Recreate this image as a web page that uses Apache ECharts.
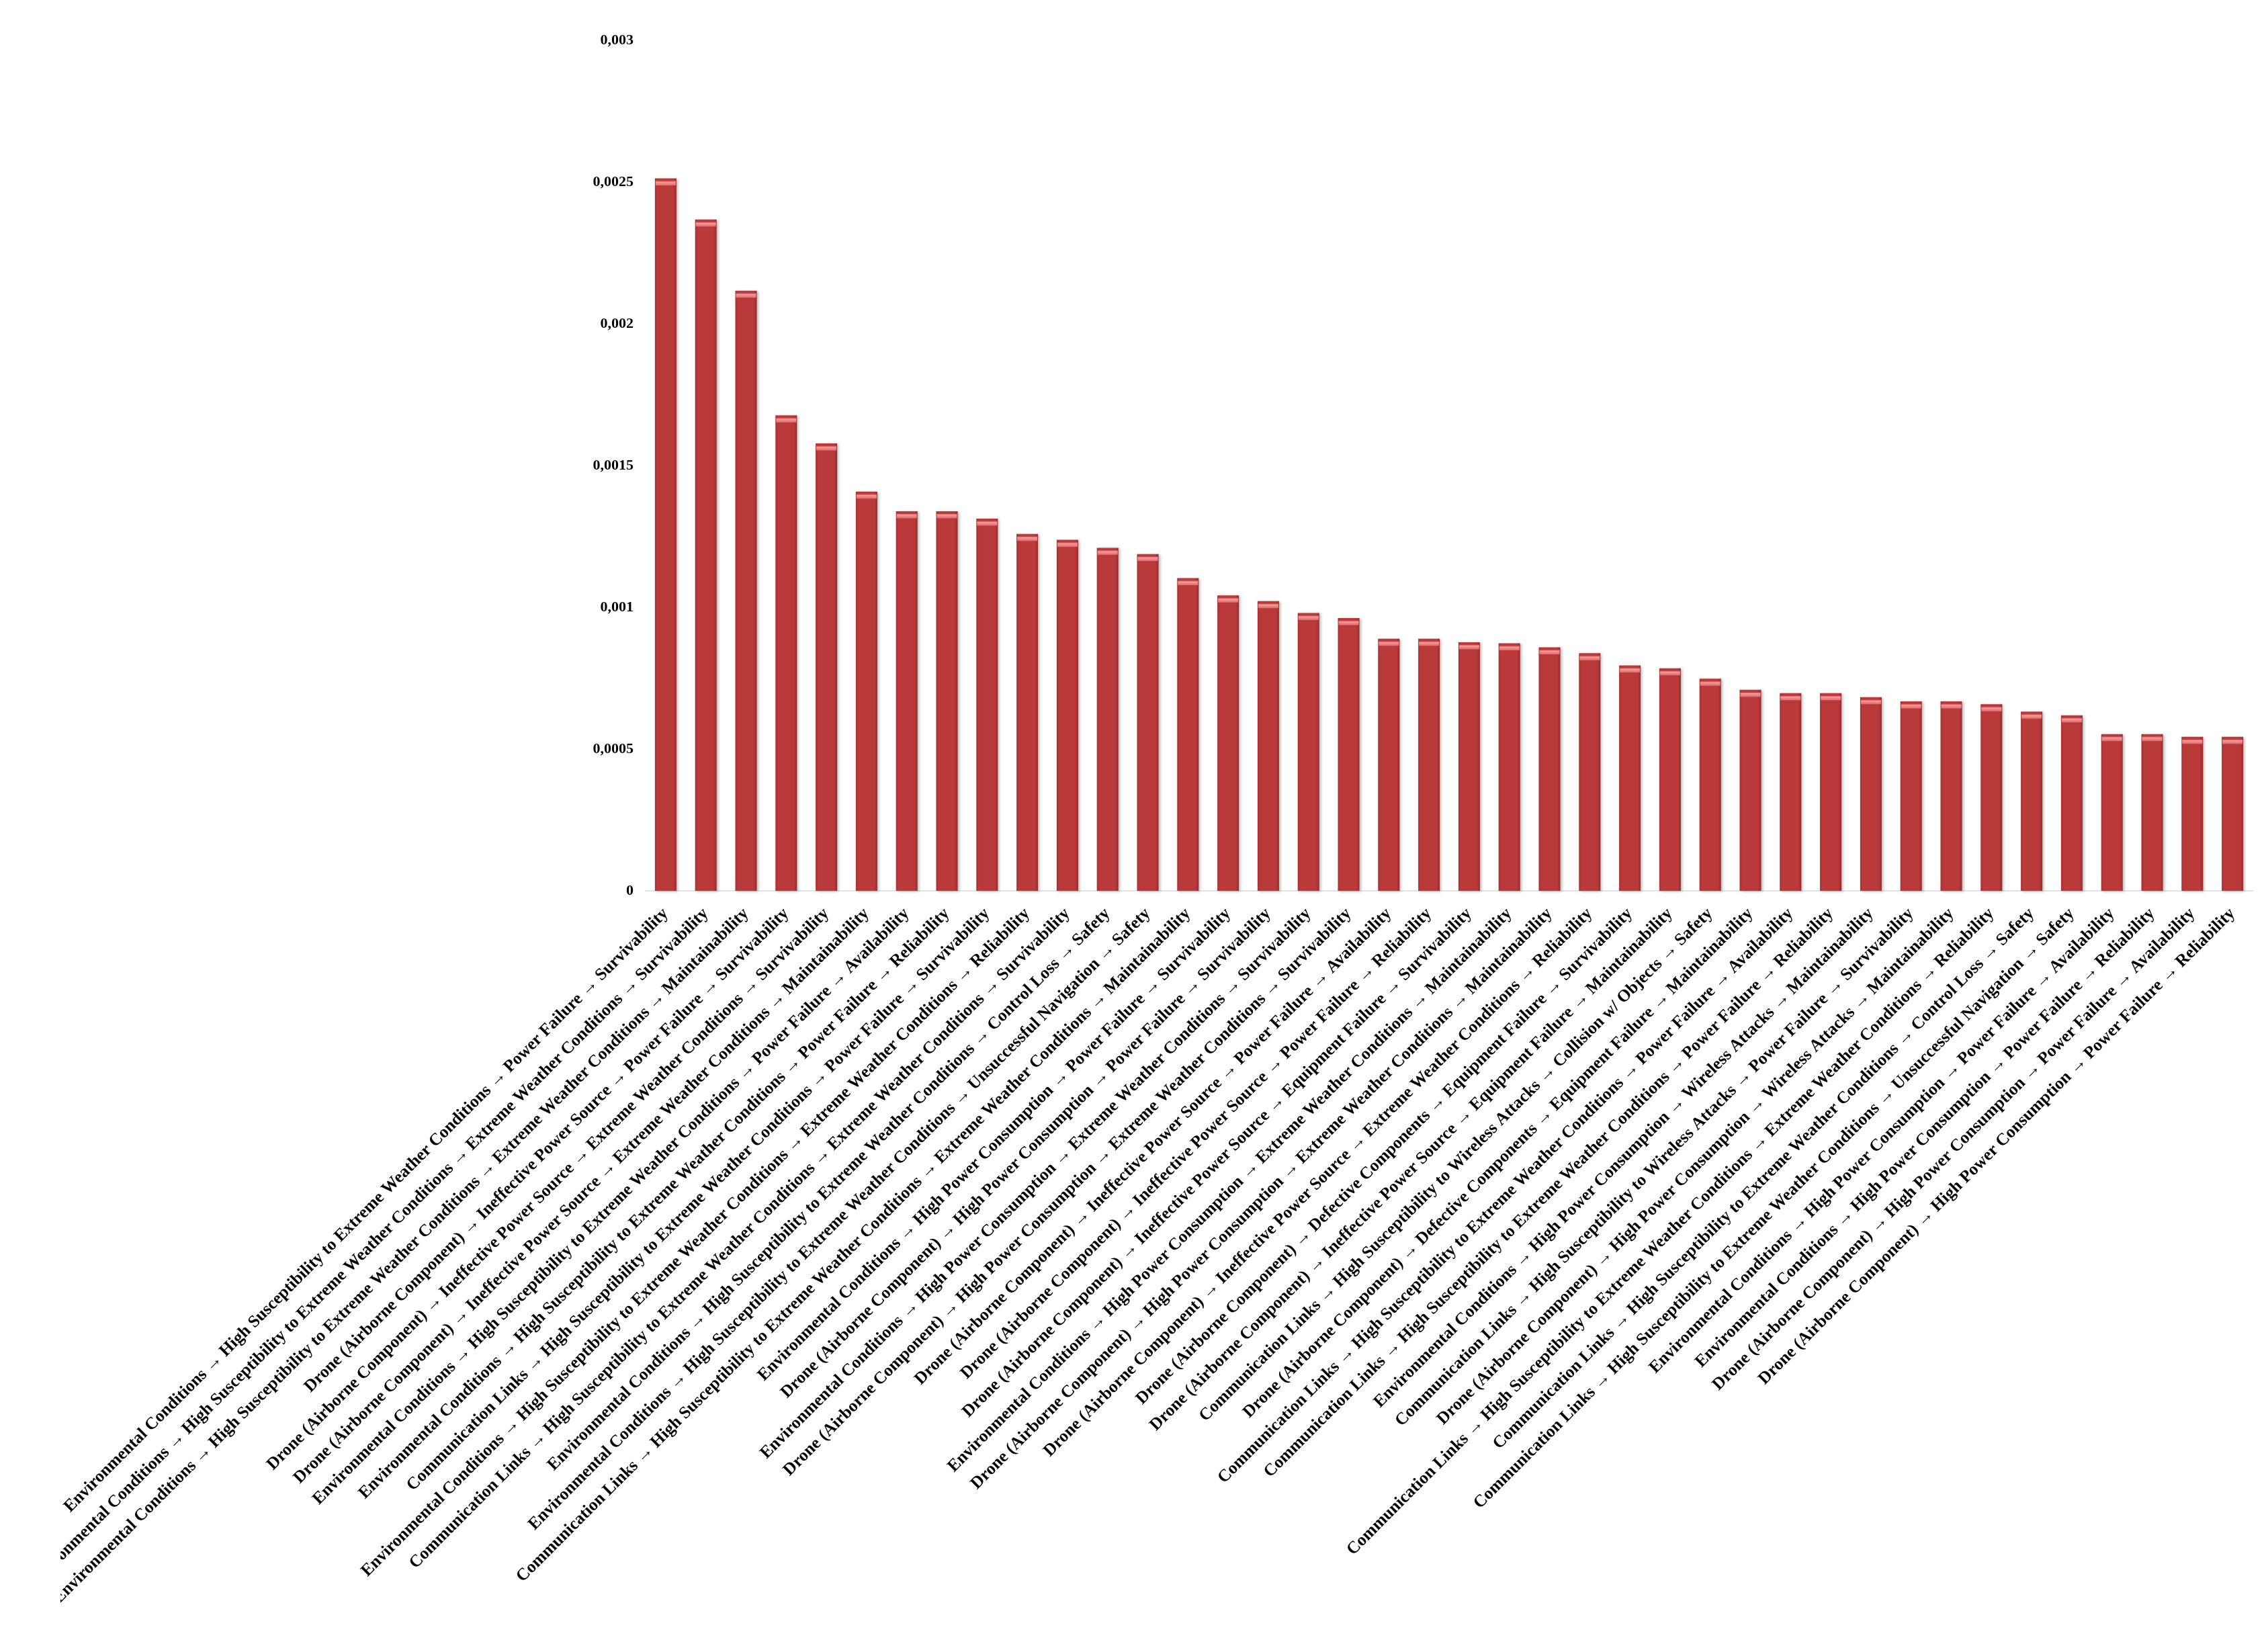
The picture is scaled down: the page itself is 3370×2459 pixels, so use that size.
<!DOCTYPE html>
<html>
<head>
<meta charset="utf-8">
<script src="https://cdn.jsdelivr.net/npm/echarts@6/dist/echarts.min.js"></script>
<style>
html,body{margin:0;padding:0;background:#ffffff;}
#wrap{position:relative;width:3370px;height:2459px;overflow:hidden;background:#ffffff;}
#chart{position:absolute;left:90px;top:0;width:3280px;height:2459px;}
</style>
</head>
<body>
<div id="wrap"><div id="chart"></div></div>
<script>
var categories = [
  "Environmental Conditions → High Susceptibility to Extreme Weather Conditions → Power Failure → Survivability",
  "Environmental Conditions → High Susceptibility to Extreme Weather Conditions → Extreme Weather Conditions → Survivability",
  "Environmental Conditions → High Susceptibility to Extreme Weather Conditions → Extreme Weather Conditions → Maintainability",
  "Drone (Airborne Component) → Ineffective Power Source → Power Failure → Survivability",
  "Drone (Airborne Component) → Ineffective Power Source → Extreme Weather Conditions → Survivability",
  "Drone (Airborne Component) → Ineffective Power Source → Extreme Weather Conditions → Maintainability",
  "Environmental Conditions → High Susceptibility to Extreme Weather Conditions → Power Failure → Availability",
  "Environmental Conditions → High Susceptibility to Extreme Weather Conditions → Power Failure → Reliability",
  "Communication Links → High Susceptibility to Extreme Weather Conditions → Power Failure → Survivability",
  "Environmental Conditions → High Susceptibility to Extreme Weather Conditions → Extreme Weather Conditions → Reliability",
  "Communication Links → High Susceptibility to Extreme Weather Conditions → Extreme Weather Conditions → Survivability",
  "Environmental Conditions → High Susceptibility to Extreme Weather Conditions → Control Loss → Safety",
  "Environmental Conditions → High Susceptibility to Extreme Weather Conditions → Unsuccessful Navigation → Safety",
  "Communication Links → High Susceptibility to Extreme Weather Conditions → Extreme Weather Conditions → Maintainability",
  "Environmental Conditions → High Power Consumption → Power Failure → Survivability",
  "Drone (Airborne Component) → High Power Consumption → Power Failure → Survivability",
  "Environmental Conditions → High Power Consumption → Extreme Weather Conditions → Survivability",
  "Drone (Airborne Component) → High Power Consumption → Extreme Weather Conditions → Survivability",
  "Drone (Airborne Component) → Ineffective Power Source → Power Failure → Availability",
  "Drone (Airborne Component) → Ineffective Power Source → Power Failure → Reliability",
  "Drone (Airborne Component) → Ineffective Power Source → Equipment Failure → Survivability",
  "Environmental Conditions → High Power Consumption → Extreme Weather Conditions → Maintainability",
  "Drone (Airborne Component) → High Power Consumption → Extreme Weather Conditions → Maintainability",
  "Drone (Airborne Component) → Ineffective Power Source → Extreme Weather Conditions → Reliability",
  "Drone (Airborne Component) → Defective Components → Equipment Failure → Survivability",
  "Drone (Airborne Component) → Ineffective Power Source → Equipment Failure → Maintainability",
  "Communication Links → High Susceptibility to Wireless Attacks → Collision w/ Objects → Safety",
  "Drone (Airborne Component) → Defective Components → Equipment Failure → Maintainability",
  "Communication Links → High Susceptibility to Extreme Weather Conditions → Power Failure → Availability",
  "Communication Links → High Susceptibility to Extreme Weather Conditions → Power Failure → Reliability",
  "Environmental Conditions → High Power Consumption → Wireless Attacks → Maintainability",
  "Communication Links → High Susceptibility to Wireless Attacks → Power Failure → Survivability",
  "Drone (Airborne Component) → High Power Consumption → Wireless Attacks → Maintainability",
  "Communication Links → High Susceptibility to Extreme Weather Conditions → Extreme Weather Conditions → Reliability",
  "Communication Links → High Susceptibility to Extreme Weather Conditions → Control Loss → Safety",
  "Communication Links → High Susceptibility to Extreme Weather Conditions → Unsuccessful Navigation → Safety",
  "Environmental Conditions → High Power Consumption → Power Failure → Availability",
  "Environmental Conditions → High Power Consumption → Power Failure → Reliability",
  "Drone (Airborne Component) → High Power Consumption → Power Failure → Availability",
  "Drone (Airborne Component) → High Power Consumption → Power Failure → Reliability"
];

var values = [
  0.002513, 0.002368, 0.002117, 0.001677, 0.001578, 0.001408, 0.001339, 0.001339,
  0.001313, 0.001259, 0.001238, 0.001210, 0.001188, 0.001103, 0.001042, 0.001022,
  0.000980, 0.000962, 0.000889, 0.000889, 0.000877, 0.000873, 0.000859, 0.000838,
  0.000795, 0.000785, 0.000748, 0.000709, 0.000697, 0.000697, 0.000683, 0.000668,
  0.000668, 0.000658, 0.000632, 0.000619, 0.000553, 0.000553, 0.000543, 0.000543
];

var yMin = 0;
var yMax = 0.003;
var yStep = 0.0005;

function fmtTick(v) {
  if (v === 0) return "0";
  var s = v.toFixed(4).replace(/0+$/, "").replace(/\.$/, "");
  return s.replace(".", ",");
}

var chart = echarts.init(document.getElementById("chart"), null, {renderer: "canvas"});
var font = "'Liberation Serif', 'Times New Roman', serif";

chart.setOption({
  backgroundColor: "#ffffff",
  animation: false,
  grid: {left: 871, right: 17, top: 60, bottom: 1133, containLabel: false, outerBoundsMode: "none"},
  xAxis: {
    type: "category",
    data: categories,
    axisTick: {show: false},
    axisLine: {show: true, lineStyle: {color: "#e4e4e4", width: 2}},
    axisLabel: {
      interval: 0,
      rotate: 45,
      margin: 30,
      color: "#000000",
      fontFamily: font,
      fontWeight: "bold",
      fontSize: 25.5
    }
  },
  yAxis: {
    type: "value",
    min: yMin,
    max: yMax,
    interval: yStep,
    splitLine: {show: false},
    axisLine: {show: false},
    axisTick: {show: false},
    axisLabel: {
      formatter: fmtTick,
      margin: 18,
      color: "#000000",
      fontFamily: font,
      fontWeight: "bold",
      fontSize: 22
    }
  },
  series: [
    {
      type: "bar",
      data: values,
      barWidth: 32,
      itemStyle: {
        color: new echarts.graphic.LinearGradient(0, 0, 1, 0, [
          {offset: 0, color: "#a83030"},
          {offset: 0.12, color: "#ba3a3a"},
          {offset: 0.85, color: "#ba3a3a"},
          {offset: 1, color: "#9a2b2b"}
        ]),
        shadowColor: "rgba(0,0,0,0.28)",
        shadowBlur: 4,
        shadowOffsetX: 2,
        shadowOffsetY: 1
      }
    },
    {
      type: "pictorialBar",
      data: values,
      symbol: "rect",
      symbolSize: [30, 7],
      symbolPosition: "end",
      symbolOffset: [0, "50%"],
      z: 5,
      itemStyle: {
        color: new echarts.graphic.LinearGradient(0, 0, 0, 1, [
          {offset: 0, color: "#c04444"},
          {offset: 0.3, color: "#f49a9a"},
          {offset: 1, color: "#e06a6a"}
        ])
      }
    }
  ]
});
</script>
</body>
</html>
